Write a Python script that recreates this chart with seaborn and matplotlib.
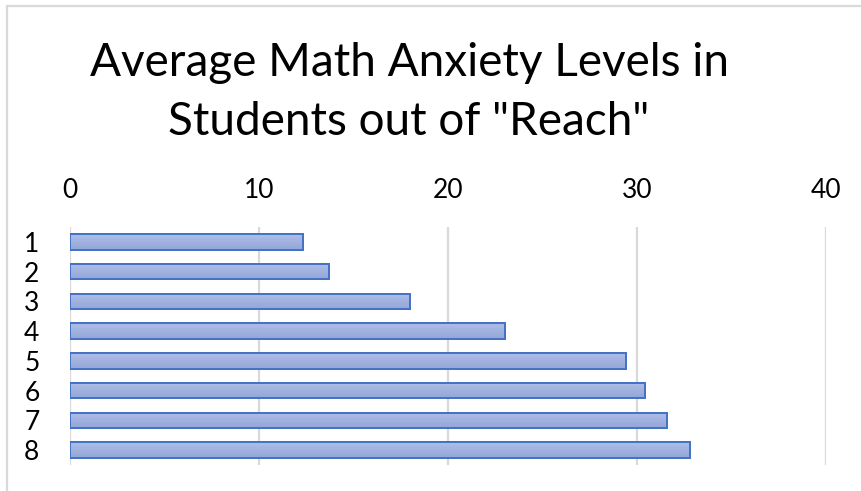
import matplotlib
matplotlib.use("Agg")
import matplotlib.pyplot as plt
from matplotlib.lines import Line2D
import numpy as np
import pandas as pd
import seaborn as sns

# Average math anxiety score per group
groups = ["1", "2", "3", "4", "5", "6", "7", "8"]
anxiety = [12.3, 13.7, 18.0, 23.0, 29.4, 30.4, 31.6, 32.8]
x_ticks = [0, 10, 20, 30, 40]
title = 'Average Math Anxiety Levels in\nStudents out of "Reach"'

df = pd.DataFrame({"group": groups, "anxiety": anxiety})

sns.set_theme(style="white")
plt.rcParams["font.family"] = ["Lato", "DejaVu Sans"]

fig = plt.figure(figsize=(8.61, 4.91), dpi=100)
ax = fig.add_axes([70 / 861, 1 - 465 / 491, (826.3 - 70) / 861, (465 - 227) / 491])

sns.barplot(data=df, x="anxiety", y="group", orient="h", order=groups,
            width=0.52, color="#a0b2df", edgecolor="#4472c4", linewidth=1.4,
            ax=ax, zorder=3)

# soft vertical gradient inside every bar
grad = np.linspace(0, 1, 64).reshape(-1, 1)
cmap = matplotlib.colors.LinearSegmentedColormap.from_list("barfill", ["#afbee7", "#93a6d9"])
for bar in ax.patches:
    x0, y0 = bar.get_x(), bar.get_y()
    w, h = bar.get_width(), bar.get_height()
    im = ax.imshow(grad, cmap=cmap, aspect="auto", extent=(x0, x0 + w, y0 + h, y0),
                   zorder=3.5, interpolation="bilinear")
    im.set_clip_path(bar)
    outline = plt.Rectangle((x0, y0), w, h, fill=False, edgecolor="#4472c4",
                            linewidth=1.4, zorder=4)
    ax.add_patch(outline)

ax.set_xlim(0, 40)
ax.set_ylim(7.5, -0.5)
ax.set_xticks(x_ticks)
ax.xaxis.tick_top()
ax.xaxis.set_label_position("top")
ax.tick_params(axis="x", length=0, pad=17, labelsize=19, labelcolor="#000000")
ax.tick_params(axis="y", length=0, pad=22, labelsize=19, labelcolor="#000000")
ax.set_xlabel("")
ax.set_ylabel("")
ax.grid(axis="x", color="#d9d9d9", linewidth=1.6, zorder=0)
ax.grid(axis="y", visible=False)
for s in ax.spines.values():
    s.set_visible(False)

fig.text(409 / 861, 1 - 42 / 491, title, ha="center", va="top",
         fontsize=33, color="#000000", linespacing=1.5)

# chart-area frame along the top and left edges
fig.add_artist(Line2D([7 / 861, 1], [1 - 6 / 491, 1 - 6 / 491], transform=fig.transFigure,
                      color="#d9d9d9", linewidth=1.6))
fig.add_artist(Line2D([7 / 861, 7 / 861], [0, 1 - 6 / 491], transform=fig.transFigure,
                      color="#d9d9d9", linewidth=1.6))

fig.savefig("out.png", dpi=100, facecolor="white")
